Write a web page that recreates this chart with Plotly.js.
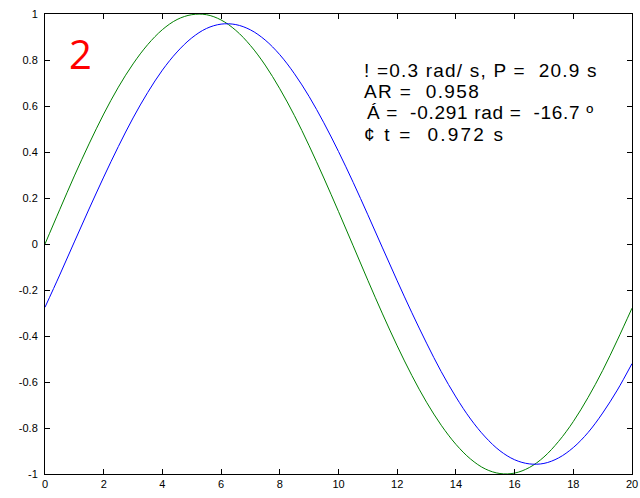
<!DOCTYPE html>
<html>
<head>
<meta charset="utf-8">
<script src="https://cdn.plot.ly/plotly-3.0.1.min.js"></script>
<style>
html,body{margin:0;padding:0;background:#fff;}
#chart{width:640px;height:498px;}
.annotation[data-index="0"] .annotation-text{letter-spacing:1.2px;}
.annotation[data-index="1"] .annotation-text{letter-spacing:1.4px;}
.annotation[data-index="2"] .annotation-text{letter-spacing:0.7px;}
.annotation[data-index="3"] .annotation-text{letter-spacing:2.2px;}
</style>
</head>
<body>
<div id="chart"></div>
<script>
// time (s)
const t = [0,0.5,1,1.5,2,2.5,3,3.5,4,4.5,5,5.5,6,6.5,7,7.5,8,8.5,9,9.5,10,
           10.5,11,11.5,12,12.5,13,13.5,14,14.5,15,15.5,16,16.5,17,17.5,18,18.5,19,19.5,20];
// input signal (green)
const inputSignal = [0,0.149,0.296,0.435,0.565,0.682,0.783,0.867,0.932,0.976,0.997,0.997,0.974,0.929,0.863,0.778,0.675,0.558,0.427,0.287,0.141,
           -0.008,-0.158,-0.304,-0.443,-0.572,-0.688,-0.788,-0.871,-0.935,-0.978,-0.998,-0.996,-0.972,-0.926,-0.858,-0.772,-0.668,-0.550,-0.418,-0.279];
// output signal (blue)
const outputSignal = [-0.275,-0.135,0.009,0.152,0.291,0.424,0.548,0.659,0.756,0.835,0.896,0.937,0.956,0.954,0.931,0.887,0.823,0.740,0.641,0.527,0.402,
           0.268,0.127,-0.017,-0.160,-0.299,-0.431,-0.555,-0.665,-0.761,-0.839,-0.899,-0.938,-0.956,-0.954,-0.930,-0.885,-0.820,-0.735,-0.635,-0.520];

const xTickVals = [0,2,4,6,8,10,12,14,16,18,20];
const xTickText = ["0","2","4","6","8","10","12","14","16","18","20"];
const yTickVals = [-1,-0.8,-0.6,-0.4,-0.2,0,0.2,0.4,0.6,0.8,1];
const yTickText = ["-1","-0.8","-0.6","-0.4","-0.2","0","0.2","0.4","0.6","0.8","1"];

const infoLines = ["! =0.3 rad/ s, P =  20.9 s", "AR =  0.958", "Á =  -0.291 rad =  -16.7 º", "¢ t =  0.972 s"];
const panelLabel = "2";

const font = "Liberation Sans, Arial, sans-serif";

const traces = [
  {x: t, y: inputSignal, type: 'scatter', mode: 'lines', line: {color: '#008000', width: 1, shape: 'spline'}, hoverinfo: 'skip'},
  {x: t, y: outputSignal, type: 'scatter', mode: 'lines', line: {color: '#0000ff', width: 1, shape: 'spline'}, hoverinfo: 'skip'}
];

const lineY = [0.877, 0.831, 0.785, 0.739];
const lineShift = [0, 0, 3, 0];
const annotations = infoLines.map((s, i) => ({
  text: s, xref: 'paper', yref: 'paper', x: 0.540, y: lineY[i], xshift: lineShift[i],
  xanchor: 'left', yanchor: 'middle', align: 'left', showarrow: false,
  font: {family: font, size: 19, color: '#000'}
}));
annotations.push({
  text: panelLabel, xref: 'paper', yref: 'paper', x: 0.0613, y: 0.915,
  xanchor: 'center', yanchor: 'middle', showarrow: false,
  font: {family: "Open Sans, Liberation Sans, sans-serif", size: 40, color: '#ff0000'}
});

const axisCommon = {
  showgrid: false, zeroline: false, showline: true, linecolor: '#000', linewidth: 1,
  mirror: 'ticks', ticks: 'inside', ticklen: 5, tickcolor: '#000', tickwidth: 1,
  tickmode: 'array', tickfont: {family: font, size: 11, color: '#000'}
};

const layout = {
  width: 640, height: 498,
  margin: {l: 45, r: 8, t: 14, b: 24},
  paper_bgcolor: '#fff', plot_bgcolor: '#fff',
  showlegend: false,
  xaxis: Object.assign({}, axisCommon, {range: [0, 20], tickvals: xTickVals, ticktext: xTickText}),
  yaxis: Object.assign({}, axisCommon, {range: [-1, 1], tickvals: yTickVals, ticktext: yTickText, ticklabelstandoff: 4}),
  annotations: annotations
};

Plotly.newPlot('chart', traces, layout, {staticPlot: true, displayModeBar: false});
</script>
</body>
</html>
